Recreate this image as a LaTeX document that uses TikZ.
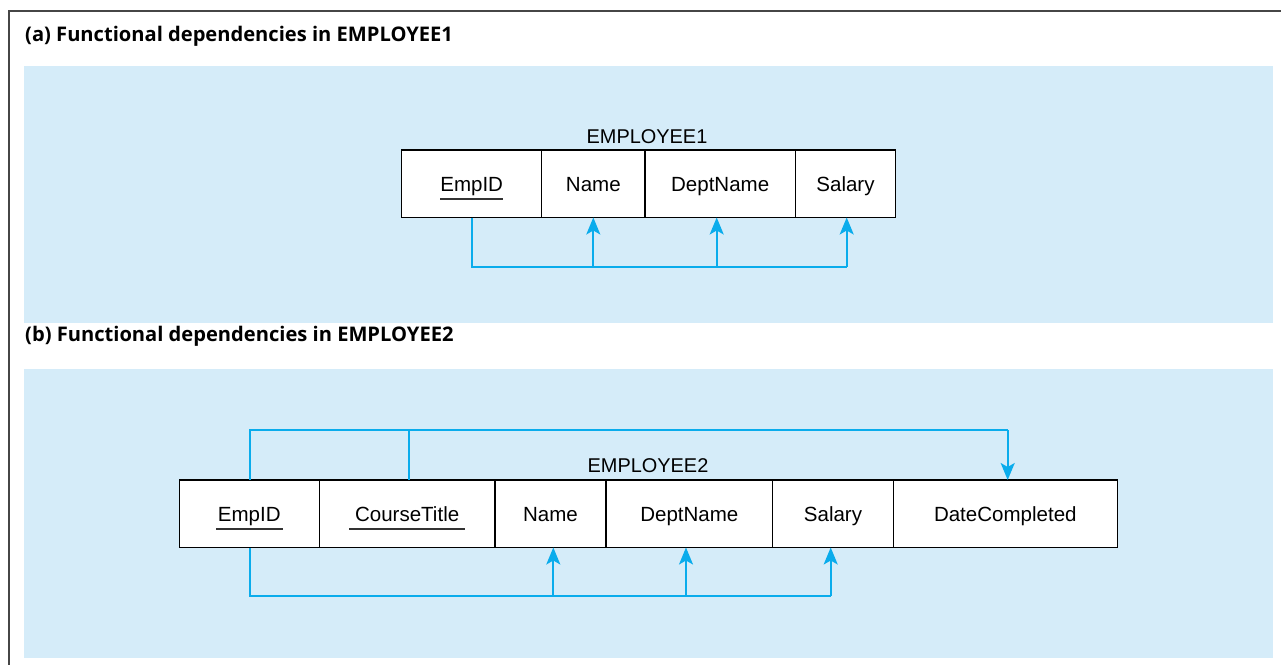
\documentclass[tikz,border=0pt]{standalone}
\usepackage{fontspec}
\setmainfont{Liberation Sans}
\newfontfamily\headfont{Open Sans}
\usetikzlibrary{arrows.meta}
\definecolor{panel}{RGB}{213,236,249}
\definecolor{fdcyan}{RGB}{10,172,236}
\definecolor{frame}{RGB}{70,70,70}
\tikzset{
  cell/.style={draw=black, fill=white, line width=1.4bp, inner sep=0pt, outer sep=0pt, anchor=north west,
    minimum height=67.5bp, text height=15.5bp, text depth=0pt,
    font=\fontsize{20.6}{24}\selectfont},
  tabtitle/.style={anchor=base, inner sep=0pt, font=\fontsize{20}{24}\selectfont},
  heading/.style={anchor=base west, inner sep=0pt, font=\headfont\bfseries\fontsize{20.2}{24}\selectfont},
  dep/.style={draw=fdcyan, line width=1.8bp},
  deparrow/.style={dep, -{Stealth[length=17bp, width=14bp, inset=4bp]}},
  ul/.style={draw=black!80, line width=1.3bp}
}
\begin{document}
\begin{tikzpicture}[x=1bp, y=-1bp]
\useasboundingbox (0,0) rectangle (1281,665);
% frame and panels
\draw[frame, line width=2bp] (9,670) -- (9,11) -- (1290,11);
\fill[panel] (24,66) rectangle (1273,323);
\fill[panel] (24,369) rectangle (1273,658);
\node[heading] (ha) at (25,41.5) {(a) Functional dependencies in EMPLOYEE1};
\node[heading] (hb) at (25,341.5) {(b) Functional dependencies in EMPLOYEE2};

% table 1
\node[tabtitle] (t1) at (647,143.3) {EMPLOYEE1};
\node[cell, minimum width=140bp] (a1) at (401.7,150) {EmpID};
\node[cell, minimum width=103.3bp] (a2) at (a1.north east) {Name};
\node[cell, minimum width=150.3bp] (a3) at (a2.north east) {DeptName};
\node[cell, minimum width=100.4bp] (a4) at (a3.north east) {Salary};
\draw[ul] ([xshift=-31.5bp,yshift=-15.3bp]a1.center) -- ([xshift=31.5bp,yshift=-15.3bp]a1.center);

\coordinate (ab) at (472,266.7);
\coordinate (af2) at (593.3,266.7);
\coordinate (af3) at (716.7,266.7);
\coordinate (af4) at (846.7,266.7);
\draw[dep] (ab |- a1.south) -- (ab) -- (af4);
\draw[deparrow] (af2) -- (af2 |- a2.south);
\draw[deparrow] (af3) -- (af3 |- a3.south);
\draw[deparrow] (af4) -- (af4 |- a4.south);

% table 2
\node[tabtitle] (t2) at (648,472.7) {EMPLOYEE2};
\node[cell, minimum width=140bp] (c1) at (179.3,480) {EmpID};
\node[cell, minimum width=175.7bp] (c2) at (c1.north east) {CourseTitle};
\node[cell, minimum width=111bp] (c3) at (c2.north east) {Name};
\node[cell, minimum width=166.7bp] (c4) at (c3.north east) {DeptName};
\node[cell, minimum width=120.6bp] (c5) at (c4.north east) {Salary};
\node[cell, minimum width=224bp] (c6) at (c5.north east) {DateCompleted};
\draw[ul] ([xshift=-33.3bp,yshift=-15.3bp]c1.center) -- ([xshift=33.3bp,yshift=-15.3bp]c1.center);
\draw[ul] ([xshift=-57.8bp,yshift=-15.3bp]c2.center) -- ([xshift=57.8bp,yshift=-15.3bp]c2.center);

\coordinate (ct1) at (250,430);
\coordinate (ct2) at (408.7,430);
\coordinate (ct6) at (1007.7,430);
\draw[dep] (ct1 |- c1.north) -- (ct1) -- (ct6);
\draw[dep] (ct2 |- c2.north) -- (ct2);
\draw[deparrow] (ct6) -- (ct6 |- c6.north);

\coordinate (cb1) at (250,596);
\coordinate (cf3) at (553.3,596);
\coordinate (cf4) at (686,596);
\coordinate (cf5) at (830.7,596);
\draw[dep] (cb1 |- c1.south) -- (cb1) -- (cf5);
\draw[deparrow] (cf3) -- (cf3 |- c3.south);
\draw[deparrow] (cf4) -- (cf4 |- c4.south);
\draw[deparrow] (cf5) -- (cf5 |- c5.south);
\end{tikzpicture}
\end{document}
